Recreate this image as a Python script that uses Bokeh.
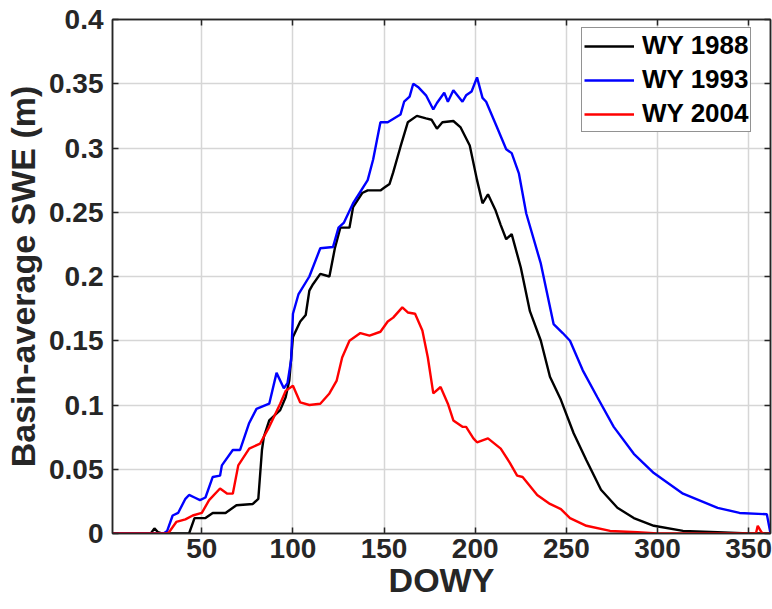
from bokeh.plotting import figure
from bokeh.models import Range1d, FixedTicker, LinearAxis, Legend, LegendItem
from bokeh.embed import file_html
from bokeh.resources import INLINE

# ---------------- data ----------------
days_1988 = [1, 22, 24, 26, 28, 43, 46, 52, 56, 63, 69, 78, 81, 83, 84, 87, 93, 96, 98, 100,
             104, 107, 109, 111, 115, 120, 123, 126, 131, 133, 138, 141, 148, 150, 153, 155,
             159, 163, 168, 173, 176, 179, 182, 188, 192, 197, 201, 204, 207, 211, 214, 217,
             220, 225, 230, 236, 241, 247, 254, 261, 269, 278, 287, 298, 314, 333, 350, 362]
swe_1988 = [0, 0, 0.004, 0.001, 0, 0, 0.012, 0.012, 0.016, 0.016, 0.022, 0.023, 0.027, 0.065,
            0.075, 0.088, 0.096, 0.106, 0.119, 0.153, 0.165, 0.170, 0.189, 0.194, 0.202, 0.200,
            0.222, 0.238, 0.238, 0.254, 0.265, 0.267, 0.267, 0.269, 0.272, 0.281, 0.301, 0.320,
            0.325, 0.323, 0.322, 0.315, 0.320, 0.321, 0.316, 0.302, 0.275, 0.257, 0.264, 0.252,
            0.240, 0.229, 0.233, 0.207, 0.173, 0.150, 0.122, 0.104, 0.078, 0.057, 0.034, 0.020,
            0.012, 0.006, 0.002, 0.001, 0, 0]

days_1993 = [1, 29, 31, 34, 37, 41, 43, 46, 49, 52, 56, 60, 61, 67, 71, 76, 80, 87, 91, 95, 97,
             99, 100, 103, 109, 115, 122, 125, 128, 133, 141, 144, 148, 152, 159, 161, 164, 166,
             169, 173, 177, 179, 183, 185, 188, 193, 195, 198, 201, 204, 206, 212, 217, 220, 224,
             228, 236, 243, 248, 252, 259, 267, 276, 287, 298, 314, 333, 345, 360, 362]
swe_1993 = [0, 0, 0.002, 0.014, 0.016, 0.027, 0.030, 0.028, 0.026, 0.028, 0.044, 0.045, 0.053,
            0.065, 0.065, 0.086, 0.097, 0.101, 0.125, 0.113, 0.117, 0.135, 0.171, 0.186, 0.200,
            0.222, 0.223, 0.238, 0.242, 0.257, 0.275, 0.291, 0.320, 0.320, 0.326, 0.336, 0.340,
            0.350, 0.347, 0.341, 0.330, 0.335, 0.343, 0.336, 0.345, 0.336, 0.341, 0.344, 0.355,
            0.339, 0.336, 0.316, 0.299, 0.296, 0.280, 0.249, 0.210, 0.163, 0.156, 0.150, 0.127,
            0.106, 0.083, 0.062, 0.047, 0.031, 0.020, 0.016, 0.015, 0]

days_2004 = [1, 31, 32, 36, 41, 45, 50, 54, 60, 64, 67, 70, 76, 82, 87, 93, 96, 100, 104, 109,
             115, 120, 124, 127, 131, 137, 142, 148, 152, 155, 160, 163, 167, 171, 174, 177, 181,
             185, 188, 193, 195, 199, 201, 207, 214, 219, 223, 226, 234, 241, 247, 252, 261, 274,
             289, 300, 354, 355, 357, 358, 362]
swe_2004 = [0, 0, 0.001, 0.009, 0.011, 0.014, 0.016, 0.026, 0.035, 0.031, 0.031, 0.053, 0.066,
            0.070, 0.083, 0.101, 0.111, 0.115, 0.102, 0.100, 0.101, 0.109, 0.119, 0.137, 0.150,
            0.156, 0.154, 0.157, 0.165, 0.168, 0.176, 0.172, 0.171, 0.158, 0.137, 0.109, 0.114,
            0.101, 0.088, 0.083, 0.083, 0.074, 0.071, 0.074, 0.066, 0.055, 0.045, 0.044, 0.030,
            0.023, 0.019, 0.012, 0.006, 0.002, 0.001, 0, 0, 0.006, 0.001, 0, 0]

series_names = ["WY 1988", "WY 1993", "WY 2004"]
series_colors = ["#000000", "#0000ff", "#ff0000"]

x_ticks = [50, 100, 150, 200, 250, 300, 350]
y_ticks = [0, 0.05, 0.1, 0.15, 0.2, 0.25, 0.3, 0.35, 0.4]
y_tick_labels = ["0", "0.05", "0.1", "0.15", "0.2", "0.25", "0.3", "0.35", "0.4"]

x_label = "DOWY"
y_label = "Basin-average SWE (m)"

# ---------------- figure ----------------
FONT = "Liberation Sans"
TXT = "#262626"

p = figure(width=772, height=609, output_backend="svg", toolbar_location=None,
           x_range=Range1d(1, 362), y_range=Range1d(0, 0.4),
           min_border_left=112, min_border_right=2, min_border_top=19, min_border_bottom=76)
p.background_fill_color = "white"
p.border_fill_color = "white"
p.outline_line_color = TXT
p.outline_line_width = 1.5

xa = p.below[0]
ya = p.left[0]
xa.ticker = FixedTicker(ticks=x_ticks)
ya.ticker = FixedTicker(ticks=y_ticks)
ya.major_label_overrides = dict(zip(y_ticks, y_tick_labels))
for ax in (xa, ya):
    ax.major_label_text_font = FONT
    ax.major_label_text_font_style = "bold"
    ax.major_label_text_font_size = "28px"
    ax.major_label_text_color = TXT
    ax.axis_label_text_font = FONT
    ax.axis_label_text_font_style = "bold"
    ax.axis_label_text_font_size = "34px"
    ax.axis_label_text_color = TXT
    ax.axis_line_color = TXT
    ax.axis_line_width = 1.5
    ax.major_tick_in = 6
    ax.major_tick_out = 0
    ax.major_tick_line_color = TXT
    ax.major_tick_line_width = 1.5
    ax.minor_tick_line_color = None
xa.axis_label = x_label
ya.axis_label = y_label
xa.major_label_standoff = 5
xa.axis_label_standoff = 0
ya.major_label_standoff = 9
ya.axis_label_standoff = 4

p.grid.grid_line_color = "#d6d6d6"
p.grid.grid_line_width = 1.5

# tick-only axes on the top and right (box on); their labels are not drawn
for loc, tk in (("right", y_ticks), ("above", x_ticks)):
    ax = LinearAxis(ticker=FixedTicker(ticks=tk))
    ax.major_label_text_font_size = "1px"
    ax.major_label_text_color = None
    ax.major_label_standoff = 0
    ax.major_tick_in = 6
    ax.major_tick_out = 0
    ax.major_tick_line_color = TXT
    ax.major_tick_line_width = 1.5
    ax.minor_tick_line_color = None
    ax.axis_line_color = TXT
    ax.axis_line_width = 1.5
    p.add_layout(ax, loc)

renderers = []
for xs, ys, col in ((days_1988, swe_1988, series_colors[0]),
                    (days_1993, swe_1993, series_colors[1]),
                    (days_2004, swe_2004, series_colors[2])):
    r = p.line(xs, ys, line_color=col, line_width=2.4)
    renderers.append(r)

legend = Legend(items=[LegendItem(label=n, renderers=[r]) for n, r in zip(series_names, renderers)],
                location=(469, 401))
legend.label_text_font = FONT
legend.label_text_font_style = "bold"
legend.label_text_font_size = "26px"
legend.label_text_color = "#000000"
legend.glyph_width = 50
legend.glyph_height = 28
legend.label_height = 28
legend.label_standoff = 8
legend.spacing = 3
legend.padding = 2
legend.margin = 0
legend.border_line_color = TXT
legend.border_line_width = 1.5
legend.background_fill_color = "white"
legend.background_fill_alpha = 1.0
p.add_layout(legend)

open("out.html", "w").write(file_html(p, INLINE))
